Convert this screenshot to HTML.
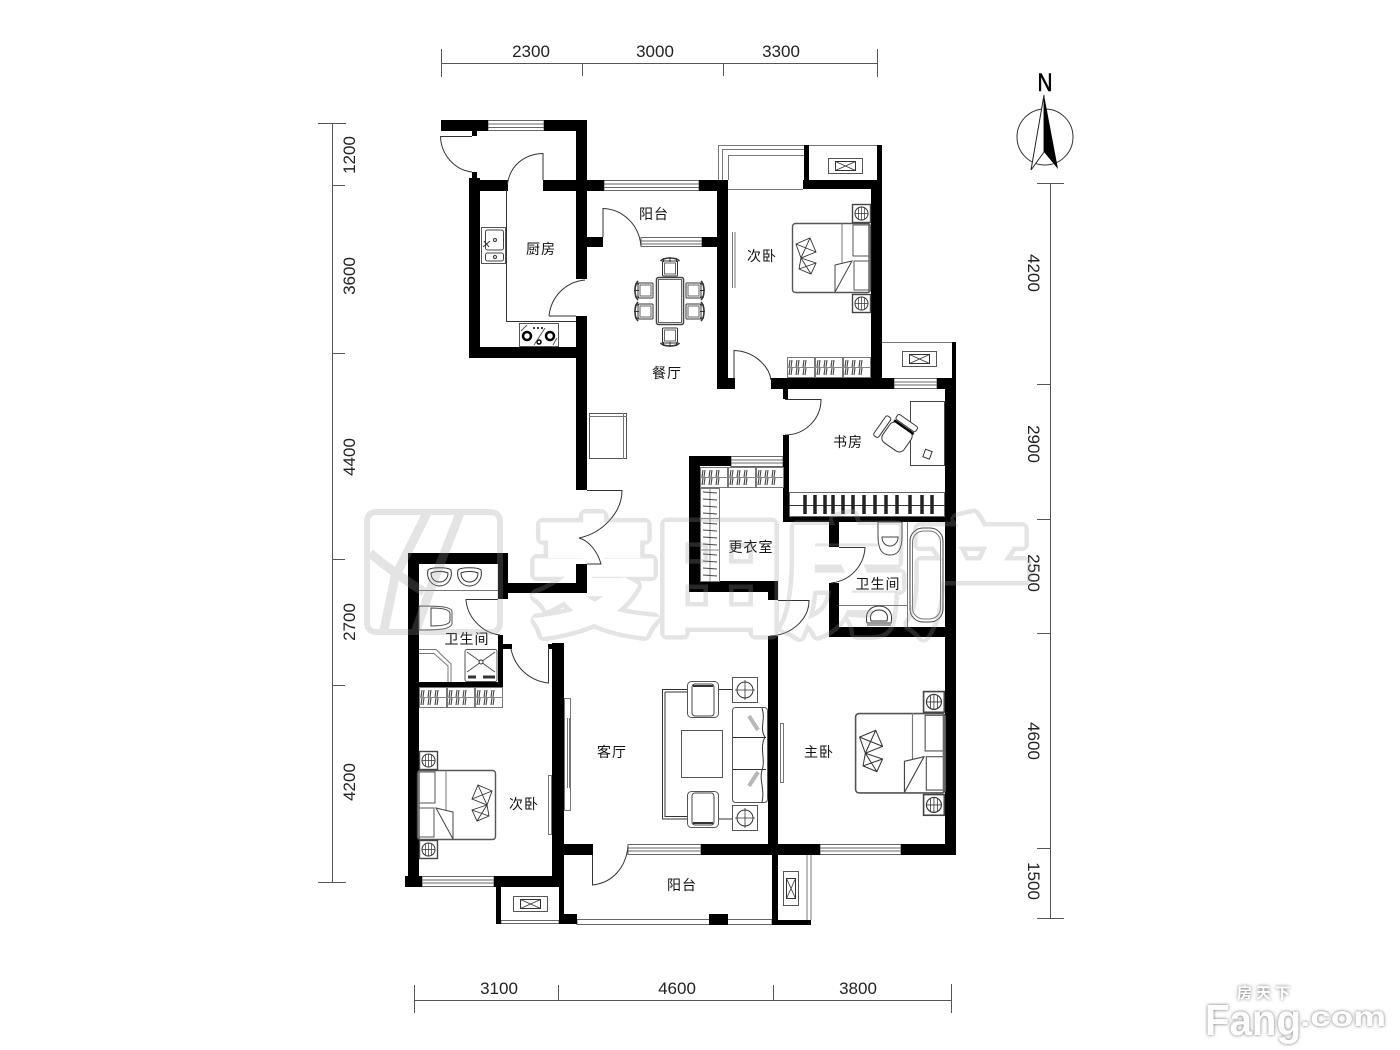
<!DOCTYPE html>
<html lang="zh"><head><meta charset="utf-8"><title>户型图</title>
<style>
html,body{margin:0;padding:0;background:#fff}
svg{display:block}
.t{font-family:"Liberation Sans","Noto Sans CJK SC",sans-serif;font-size:14px;fill:#111;text-anchor:middle;letter-spacing:1px}
.d{font-family:"Liberation Sans",sans-serif;font-size:17px;fill:#222;text-anchor:middle}
.l{fill:none;stroke:#333;stroke-width:1}
.g{fill:none;stroke:#777;stroke-width:1}
</style></head><body>
<svg width="1400" height="1050" viewBox="0 0 1400 1050" xmlns="http://www.w3.org/2000/svg">
<defs>
<g id="bed">
<rect x="0.5" y="0.5" width="78" height="69" rx="3" fill="#fff" stroke="#555" stroke-width="1.4"/>
<path d="M50 0V42" class="g"/>
<rect x="61" y="2" width="16" height="31" fill="#fff" stroke="#555"/>
<rect x="62" y="38" width="15" height="29" fill="#fff" stroke="#555"/>
<path d="M43 42L60 38L43 69Z" fill="#fff" stroke="#444"/>
<path d="M77 1V69" stroke="#666" stroke-width="1.5"/>
<path d="M4 21L18 15L24 29L9 35ZM9 35L24 40L19 51L7 46ZM4 21L24 29M18 15L9 35M9 35L19 51M24 40L7 46" fill="#fff" stroke="#333" stroke-width="0.9"/>
</g>
<g id="ns">
<rect x="0.5" y="0.5" width="18" height="18" fill="#fff" stroke="#444" stroke-width="1.4"/>
<circle cx="9.5" cy="9.500" r="6.500" fill="none" stroke="#333"/>
<path d="M3 9.500H16M9.500 3V16M6.500 4V15M12.500 4V15" stroke="#333" stroke-width="0.7"/>
</g>
<g id="hg">
<path d="M3 3L2 10M3 11L2 18M10 3L9 10M10 11L9 18M17 3L16 10M17 11L16 18" stroke="#444" stroke-width="1.100"/>
</g>
<g id="wd">
<rect x="0.5" y="0.5" width="27" height="20" fill="#fff" stroke="#777"/>
<path d="M0 10.500H28" stroke="#888"/>
<use href="#hg"/><use href="#hg" x="2"/>
</g>
<g id="ac"><rect x="0.5" y="0.5" width="34" height="15" fill="#fff" stroke="#555"/><rect x="7.500" y="3.500" width="20" height="9" fill="none" stroke="#333"/><path d="M7.500 3.500L27.500 12.500M27.500 3.500L7.500 12.500" stroke="#333" stroke-width=".8"/></g>
<g id="cd"><rect x="1" y="2" width="15" height="15" rx="1" fill="#fff" stroke="#333"/><rect x="3" y="4" width="11" height="11" fill="none" stroke="#666"/><path d="M-1 2C3-2 14-2 18 2" fill="none" stroke="#333" stroke-width="1.600"/><path d="M2 -1V3M8.500 -2V3M15 -1V3" stroke="#333"/></g>
<g id="sk"><path d="M1 3C4 0 21 0 24 3C26 12 20 19 12.500 19C5 19 -1 12 1 3Z" fill="#fff" stroke="#333"/><path d="M4 6C8 4 17 4 21 6C21 12 17 15 12.500 15C8 15 4 12 4 6Z" fill="none" stroke="#333"/></g>
<g id="am"><rect x="0.5" y="0.5" width="31" height="36" rx="4" fill="#fff" stroke="#555"/><rect x="5" y="3" width="22" height="32" rx="3" fill="#fff" stroke="#444"/><path d="M6 5H26" stroke="#333" stroke-width="2"/></g>
<g id="st"><rect x="0.5" y="0.5" width="25" height="25" fill="#fff" stroke="#555"/><circle cx="13" cy="13" r="8" fill="none" stroke="#333"/><path d="M13 3V23M3 13H23" stroke="#333" stroke-width=".8"/></g>
<mask id="wm" maskUnits="userSpaceOnUse" x="500" y="480" width="560" height="180">
<rect x="500" y="480" width="560" height="180" fill="#fff"/>
<text x="532" y="622" font-family="'Noto Sans CJK SC',sans-serif" font-weight="700" font-size="124" fill="#000" stroke="#000" stroke-width="6" textLength="500" lengthAdjust="spacing">麦田房产</text>
</mask>
</defs>

<!-- dimensions -->
<g stroke="#555" stroke-width="1" fill="none">
<path d="M441.500 63.500H877M441.500 49V77M582.500 63V76M723.500 63V76M877.500 49V77"/>
<path d="M332.500 123V882M318 123.500H346M332 185.500H345M332 353.500H345M332 559.500H345M332 685.500H345M318 882.500H346"/>
<path d="M1050.500 183V918M1037 183.500H1064M1037 384.500H1050M1037 519.500H1050M1037 633.500H1050M1037 848.500H1050M1037 918.500H1064"/>
<path d="M414 1000.500H951M414.500 985V1013"/>
<path d="M558.500 985V1000M773.500 985V1000M951.500 984V1013"/>
</g>
<g>
<text class="d" x="531" y="57">2300</text><text class="d" x="655" y="57">3000</text><text class="d" x="781" y="57">3300</text>
<text class="d" x="499" y="994">3100</text><text class="d" x="677" y="994">4600</text><text class="d" x="858" y="994">3800</text>
<text class="d" transform="translate(355 155) rotate(-90)">1200</text>
<text class="d" transform="translate(355 276) rotate(-90)">3600</text>
<text class="d" transform="translate(355 457) rotate(-90)">4400</text>
<text class="d" transform="translate(355 622) rotate(-90)">2700</text>
<text class="d" transform="translate(355 782) rotate(-90)">4200</text>
<text class="d" transform="translate(1028 273) rotate(90)">4200</text>
<text class="d" transform="translate(1028 444) rotate(90)">2900</text>
<text class="d" transform="translate(1028 573) rotate(90)">2500</text>
<text class="d" transform="translate(1028 741) rotate(90)">4600</text>
<text class="d" transform="translate(1028 881) rotate(90)">1500</text>
</g>

<!-- compass -->
<text x="1045" y="91" font-family="'Liberation Sans',sans-serif" font-size="25" text-anchor="middle" fill="#000" stroke="#000" stroke-width=".6" textLength="15" lengthAdjust="spacingAndGlyphs">N</text>
<circle cx="1045" cy="137" r="28" fill="none" stroke="#333"/>
<path d="M1044 95L1031 170L1044 152Z" fill="#fff" stroke="#222"/>
<path d="M1044 95L1058 169L1044 152Z" fill="#000"/>

<!-- windows -->
<g fill="#fff" stroke="#666" stroke-width="1">
<rect x="488" y="120.500" width="56" height="10"/><path d="M488 124H544M488 127.500H544"/>
<rect x="604" y="180.500" width="95" height="10"/><path d="M604 184H699M604 187.500H699"/>
<rect x="641" y="237.500" width="61" height="9"/><path d="M641 241H702M641 244H702"/>
<rect x="894" y="378.500" width="43" height="10"/><path d="M894 382H937M894 385H937"/>
<rect x="731" y="456.500" width="52" height="10"/><path d="M731 460H783M731 463H783"/>
<rect x="422" y="876.500" width="72" height="10"/><path d="M422 880H494M422 883H494"/>
<rect x="628" y="844.500" width="73" height="10"/><path d="M628 848H701M628 851H701"/>
<rect x="820" y="844.500" width="81" height="10"/><path d="M820 848H901M820 851H901"/>
<rect x="577" y="919.500" width="195" height="5"/>
<rect x="501" y="920.500" width="58" height="3"/>
</g>
<!-- bay window -->
<path d="M718.500 180V145.500H804M722.500 180V149.500H804M728.500 180V155.500H804" class="g"/>
<path d="M809 145.500H877M882 342.500H952M728 189.500H803" class="g"/>
<path d="M807 855V920M811 855V920" class="g"/>

<!-- walls -->
<g fill="#000">
<rect x="441" y="120" width="47" height="11"/><rect x="544" y="120" width="43" height="11"/>
<rect x="576" y="120" width="11" height="159"/><rect x="472" y="131" width="5" height="5"/><rect x="472" y="172" width="5" height="8"/>
<rect x="469" y="178" width="11" height="180"/><rect x="469" y="180" width="39" height="11"/>
<rect x="543" y="180" width="61" height="11"/><rect x="699" y="180" width="29" height="11"/>
<rect x="717" y="180" width="11" height="209"/><rect x="717" y="378" width="18" height="11"/>
<rect x="587" y="237" width="16" height="10"/><rect x="702" y="237" width="15" height="10"/>
<rect x="576" y="316" width="11" height="174"/><rect x="469" y="347" width="118" height="11"/>
<rect x="804" y="145" width="5" height="35"/><rect x="803" y="180" width="79" height="9"/>
<rect x="871" y="180" width="11" height="208"/><rect x="877" y="145" width="5" height="35"/>
<rect x="771" y="378" width="123" height="11"/><rect x="937" y="378" width="19" height="11"/>
<rect x="952" y="342" width="4" height="36"/><rect x="945" y="378" width="11" height="477"/>
<rect x="783" y="389" width="5" height="10"/><rect x="783" y="435" width="6" height="87"/>
<rect x="783" y="517" width="173" height="5"/>
<rect x="829" y="522" width="10" height="25"/><rect x="829" y="583" width="10" height="54"/><rect x="829" y="627" width="127" height="10"/>
<rect x="689" y="456" width="11" height="136"/><rect x="689" y="456" width="42" height="10"/>
<rect x="689" y="581" width="89" height="11"/><rect x="768" y="592" width="10" height="8"/><rect x="768" y="636" width="10" height="219"/>
<rect x="408" y="553" width="11" height="330"/><rect x="408" y="553" width="100" height="11"/>
<rect x="498" y="553" width="10" height="46"/><rect x="498" y="583" width="89" height="10"/>
<rect x="576" y="564" width="11" height="29"/><rect x="498" y="635" width="5" height="49"/><rect x="498" y="644" width="14" height="5"/>
<rect x="419" y="682" width="84" height="5"/>
<rect x="405" y="876" width="17" height="11"/><rect x="494" y="876" width="70" height="11"/>
<rect x="552" y="643" width="12" height="233"/><rect x="548" y="644" width="4" height="5"/>
<rect x="559" y="855" width="5" height="69"/><rect x="559" y="914" width="18" height="10"/>
<rect x="496" y="887" width="5" height="37"/>
<rect x="564" y="844" width="29" height="11"/><rect x="701" y="844" width="119" height="11"/><rect x="901" y="844" width="55" height="11"/>
<rect x="772" y="855" width="6" height="70"/><rect x="772" y="920" width="39" height="5"/><rect x="709" y="914" width="19" height="11"/>
</g>

<!-- doors -->
<g class="l">
<path class="l" d="M472 136.500H440.500C441 154 454 170 472 172"/>
<path class="l" d="M543 180V153.500C525 154 510 165 507.500 184M506.500 190V321.500H576"/>
<path class="l" d="M603 237V208.500C622 209 639 224 641 246"/>
<path class="l" d="M549 316H576M549 316C551 297 565 282 585 280"/>
<path class="l" d="M734 378V350.500C753 351 769 365 771 380"/>
<path class="l" d="M785 399.500H821C821 419 805 435 785 435"/>
<path class="l" d="M587 490.500H622C622 512 603 533 579 538C590 541 598 553 601 564H587"/>
<path class="l" d="M839 547.500H865C864 566 850 581 831 583"/>
<path class="l" d="M778 600.500H809C809 619 792 635 770 636"/>
<path class="l" d="M498 599.500H466C467 617 482 633 500 635"/>
<path class="l" d="M511 649C515 668 530 681 548.500 683V647"/>
<path class="l" d="M592.500 855V885C612 883 626 868 628 846"/>
</g>

<!-- kitchen furniture -->
<rect x="481.500" y="227.500" width="24" height="36" fill="#fff" stroke="#555"/>
<rect x="485.500" y="230" width="18" height="20" rx="2" fill="none" stroke="#444"/><rect x="485.500" y="253" width="18" height="8" rx="2" fill="none" stroke="#444"/>
<circle cx="495" cy="240" r="1.500" fill="none" stroke="#333"/><circle cx="495" cy="257" r="1.500" fill="none" stroke="#333"/>
<path d="M483 247L490 241M484 241L489 247" stroke="#333"/>
<rect x="519.500" y="323.500" width="39" height="23" fill="#fff" stroke="#555"/>
<circle cx="527" cy="336" r="4" fill="none" stroke="#000" stroke-width="2.500"/><circle cx="550" cy="336" r="4" fill="none" stroke="#000" stroke-width="2.500"/><circle cx="539" cy="342" r="2" fill="none" stroke="#000" stroke-width="1.500"/>
<path d="M521 331L527 325M534 345L545 328M553 345L557 338" stroke="#555"/>
<circle cx="534" cy="328" r="1" fill="#000"/><circle cx="538" cy="328" r="1" fill="#000"/><circle cx="542" cy="328" r="1" fill="#000"/>

<!-- dining -->
<rect x="656.500" y="277.500" width="27" height="47" rx="2" fill="#fff" stroke="#444" stroke-width="1.500"/>
<rect x="658.500" y="279.500" width="23" height="43" fill="none" stroke="#666"/>
<use href="#cd" x="661.500" y="259"/>
<use href="#cd" transform="translate(678.500 345) rotate(180)"/>
<use href="#cd" transform="translate(636 299) rotate(-90)"/><use href="#cd" transform="translate(636 320) rotate(-90)"/>
<use href="#cd" transform="translate(703 282) rotate(90)"/><use href="#cd" transform="translate(703 303) rotate(90)"/>

<!-- fridge -->
<rect x="589.500" y="413.500" width="37" height="45" fill="#fff" stroke="#555"/>
<path d="M623.500 413V459M589 416.500H627" class="g"/>

<!-- bedroom NE -->
<path d="M732.500 232V288M735 232V288" class="g"/>
<use href="#bed" x="792" y="223"/>
<use href="#ns" x="852" y="204"/><use href="#ns" x="852" y="294"/>
<use href="#wd" x="787" y="357"/><use href="#wd" x="815" y="357"/><use href="#wd" x="843" y="357"/>
<use href="#ac" x="828" y="158"/><use href="#ac" x="902" y="351"/><use href="#ac" x="513" y="896"/>
<use href="#ac" transform="translate(799 871) rotate(90)"/>

<!-- study -->
<rect x="910.500" y="401.500" width="34" height="64" fill="#fff" stroke="#444"/>
<g transform="translate(897 437) rotate(35)">
<rect x="-13" y="-12" width="26" height="24" rx="6" fill="#fff" stroke="#333"/>
<path d="M-12 -12H12" stroke="#000" stroke-width="2.500"/>
<rect x="-12" y="-21" width="24" height="6" rx="2" fill="#fff" stroke="#333" transform="rotate(-90)"/>
<rect x="-12" y="-20" width="24" height="6" rx="2" fill="#fff" stroke="#333"/>
</g>
<rect x="924" y="450" width="7" height="8" transform="rotate(20 927 454)" fill="#fff" stroke="#333"/>
<rect x="789.500" y="492.500" width="155" height="24" fill="#fff" stroke="#666"/>
<path d="M789 505.500H945" class="l"/>
<path d="M805 495V514M815 495V514M825 495V514M833 495V514M843 495V514M853 495V514M864 495V514M875 495V514M886 495V514M897 495V514M910 495V514M922 495V514M932 495V514" stroke="#222" stroke-width="3.500"/>

<!-- dressing -->
<use href="#wd" x="700" y="467"/><use href="#wd" x="728" y="467"/><use href="#wd" x="756" y="467"/>
<g transform="translate(720 488) rotate(90)"><rect x=".5" y=".5" width="93" height="19" fill="#fff" stroke="#777"/>
<path d="M0 10H93M30.500 0V20M62 0V20" stroke="#888"/>
<path d="M5 3L4 17M12 3L11 17M19 3L18 17M26 3L25 17M36 3L35 17M43 3L42 17M50 3L49 17M57 3L56 17M67 3L66 17M74 3L73 17M81 3L80 17M88 3L87 17" stroke="#444" stroke-width="1"/></g>

<!-- bath east -->
<path d="M907.500 522V627M839 605.500H907" class="g"/>
<rect x="910" y="528" width="33" height="94" rx="13" fill="#fff" stroke="#444"/><rect x="912.500" y="531" width="28" height="88" rx="11" fill="none" stroke="#777"/>
<path d="M878 522V536C878 551 883 555 890 555C897 555 902 551 902 536V522Z" fill="#fff" stroke="#444"/>
<path d="M882 537C882 549 898 549 898 537Z" fill="none" stroke="#444"/>
<g transform="translate(866 605)"><path d="M1 18C-2 4 8 1 13 1C18 1 28 4 25 18Z" fill="#fff" stroke="#333"/><path d="M5 16C3 8 8 5 13 5C18 5 23 8 21 16Z" fill="none" stroke="#333"/><path d="M1 20H25" stroke="#444"/></g>

<!-- bath west -->
<path d="M419 590.500H498" class="g"/>
<use href="#sk" x="427" y="567"/><use href="#sk" x="457" y="567"/>
<path d="M419 606V630C435 630 450 630 452 624V611C450 606 435 606 419 606Z" fill="#fff" stroke="#555"/>
<path d="M431 608V626C440 626 449 625 450 621V613C449 609 440 608 431 608Z" fill="none" stroke="#444"/>
<path d="M419 649.500H436L451 664V682M419 653.500H434L448 666V682" class="g"/>
<rect x="465" y="649.500" width="32" height="32" rx="2" fill="#fff" stroke="#555"/>
<path d="M467 652L495 672M495 652L467 672" stroke="#444" stroke-width=".8"/><circle cx="481" cy="662" r="2" fill="#fff" stroke="#333"/>
<path d="M468 677H476M483 677H495" stroke="#333" stroke-width="3"/>
<use href="#wd" x="419" y="687"/><use href="#wd" x="447" y="687"/><use href="#wd" x="475" y="687"/>

<!-- bedroom SW -->
<use href="#bed" transform="translate(419 770) scale(-1 1) translate(-77 0)"/>
<use href="#ns" x="419" y="751"/><use href="#ns" x="419" y="840"/>
<rect x="548.500" y="775.500" width="3" height="59" fill="#fff" stroke="#777"/>
<rect x="564.500" y="698.500" width="6" height="112" fill="#fff" stroke="#777"/>
<path d="M567.500 718V788M569.500 718V788" class="g"/>

<!-- living -->
<path d="M687 689.500H662.500V819H687M665 692V816.500H687M665 692H687M719 689.500H732M719 819H732" class="l"/>
<rect x="681.500" y="730.500" width="41" height="47" fill="#fff" stroke="#555"/>
<use href="#am" x="687" y="681"/>
<use href="#am" transform="translate(719 828) rotate(180)"/>
<use href="#st" x="732" y="677"/><use href="#st" x="732" y="805"/>
<rect x="732.500" y="707.500" width="35" height="95" rx="3" fill="#fff" stroke="#555"/>
<path d="M733 737.500H766M733 769.500H766M762 708C766 720 759 728 765 737C759 748 766 760 762 770C759 780 765 790 762 802" class="l"/>
<path d="M749 716L758 730M749 786L758 772" stroke="#333" stroke-width="4" opacity=".35"/>
<rect x="780.500" y="723.500" width="3" height="59" fill="#fff" stroke="#777"/>

<!-- master bed -->
<use href="#bed" transform="translate(855 713) scale(1.150 1.150)"/>
<use href="#ns" transform="translate(923 691) scale(1.150)"/><use href="#ns" transform="translate(923 794) scale(1.150)"/>

<!-- labels -->
<g>
<text class="t" x="541" y="254">厨房</text>
<text class="t" x="654" y="219">阳台</text>
<text class="t" x="762" y="261">次卧</text>
<text class="t" x="667" y="378">餐厅</text>
<text class="t" x="848" y="447">书房</text>
<text class="t" x="751" y="552">更衣室</text>
<text class="t" x="878" y="589">卫生间</text>
<text class="t" x="467" y="644">卫生间</text>
<text class="t" x="612" y="757">客厅</text>
<text class="t" x="819" y="757">主卧</text>
<text class="t" x="524" y="809">次卧</text>
<text class="t" x="682" y="890">阳台</text>
</g>

<!-- watermark (translucent, over the plan) -->
<g opacity=".26" fill="none" stroke="#999" stroke-width="6">
<path d="M377 512H490Q500 512 500 522V622Q500 632 490 632H377Q367 632 367 622V522Q367 512 377 512Z"/>
<path d="M427 513L395 577L384 630M460 513L430 590L416 630M370 553C385 566 402 578 424 592" stroke-width="9"/>
<g mask="url(#wm)"><text x="532" y="622" font-family="'Noto Sans CJK SC',sans-serif" font-weight="700" font-size="124" stroke-width="15" stroke-linejoin="round" textLength="500" lengthAdjust="spacing">麦田房产</text></g>
</g>

<!-- fang.com -->
<filter id="sh" x="-10%" y="-30%" width="120%" height="160%"><feDropShadow dx="0" dy="0" stdDeviation="1.500" flood-color="#666"/></filter>
<g filter="url(#sh)" fill="#fff" font-family="'Liberation Sans','Noto Sans CJK SC',sans-serif" font-weight="700">
<text x="1205" y="1035" font-size="44" textLength="96" lengthAdjust="spacingAndGlyphs">Fang</text>
<text x="1300" y="1026" font-size="28" textLength="86" lengthAdjust="spacingAndGlyphs">.com</text>
<text x="1237" y="998" font-size="15" letter-spacing="4">房天下</text>
</g>
</svg>
</body></html>
